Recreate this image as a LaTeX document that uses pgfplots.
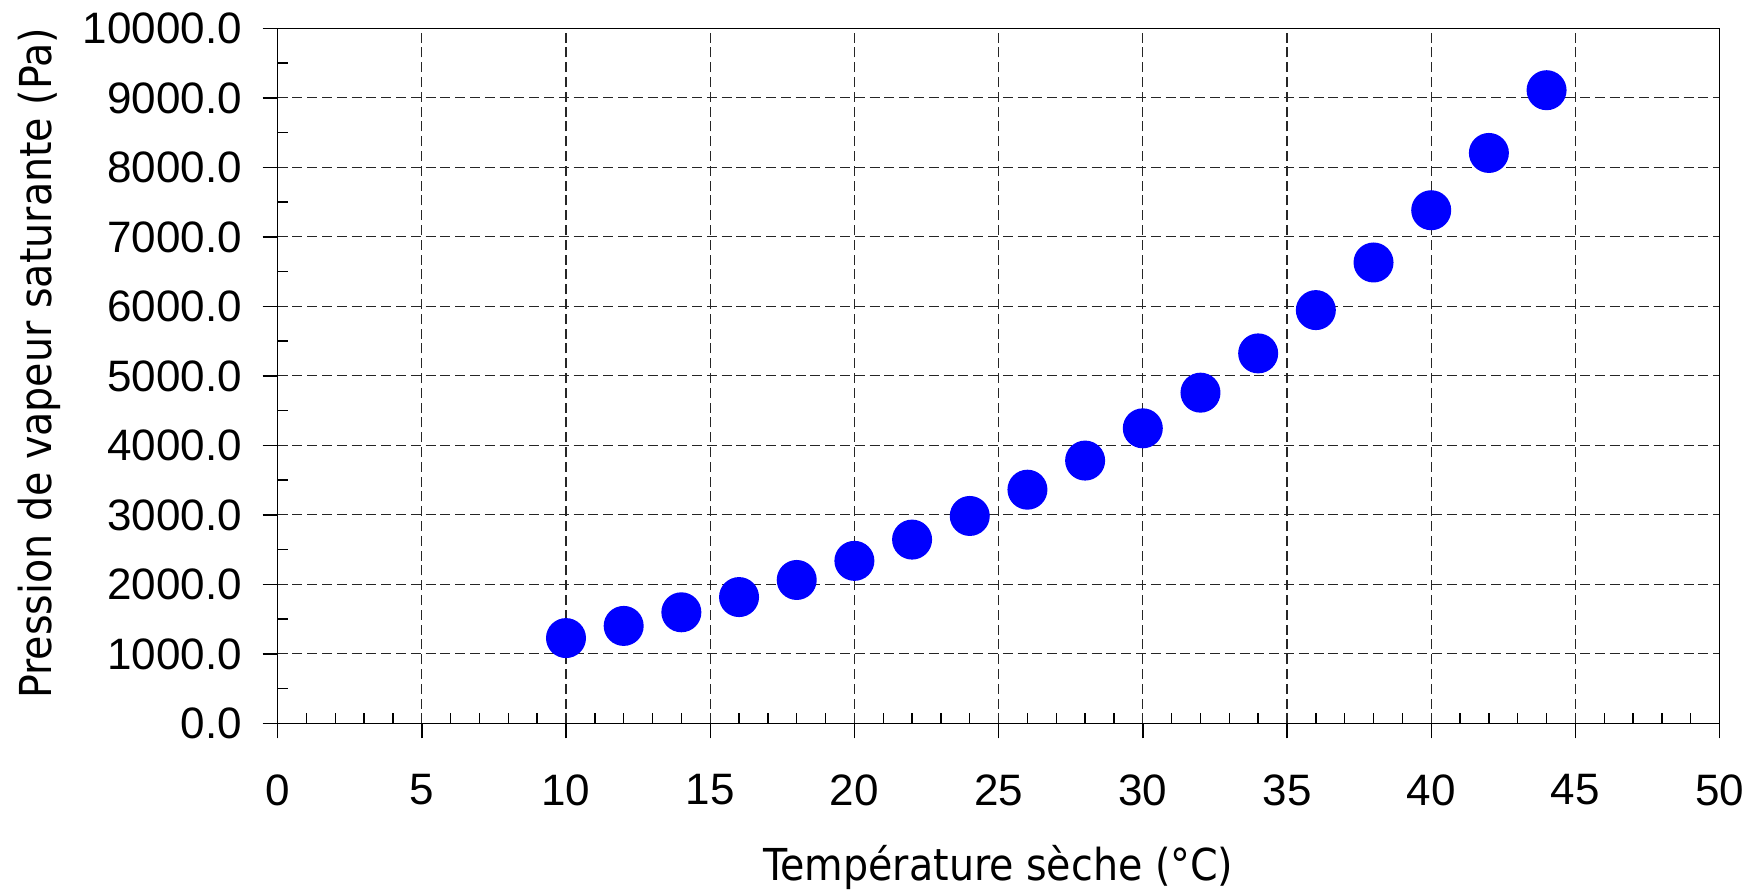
\documentclass[border=0pt]{standalone}
\usepackage{fontspec}
\setmainfont{DejaVu Sans Condensed}
\newfontfamily\tickfont{Liberation Sans}
\usepackage{pgfplots}
\pgfplotsset{compat=1.18}
\begin{document}
\fontsize{11pt}{13pt}\selectfont
\begin{tikzpicture}
\begin{axis}[
  scale only axis,
  width=360.5pt, height=173.75pt,
  xmin=0, xmax=50, ymin=0, ymax=10000,
  xtick={0,5,...,50},
  ytick={0,1000,...,10000},
  minor x tick num=4,
  minor y tick num=1,
  tick pos=left,
  tick align=outside,
  major tick length=3.75pt,
  minor tick length=2.6pt,
  minor x tick style={yshift=2.6pt},
  minor y tick style={xshift=2.6pt},
  tick style={black, line width=0.35pt},
  grid=major,
  major grid style={black!85, line width=0.28pt, dash pattern=on 2.5pt off 1.2pt},
  axis line style={black, line width=0.4pt},
  scaled y ticks=false,
  /pgf/number format/assume math mode=true,
  yticklabel={\pgfmathprintnumber[fixed, fixed zerofill, precision=1, set thousands separator={}]{\tick}},
  xticklabel={\pgfmathprintnumber[fixed, precision=0]{\tick}},
  ticklabel style={font=\tickfont\fontsize{11pt}{13pt}\selectfont},
  yticklabel style={anchor=east, inner sep=0pt, xshift=-5.0pt},
  xticklabel style={anchor=north, inner sep=0pt, yshift=-8.8pt},
  xlabel={Température sèche (°C)},
  ylabel={Pression de vapeur saturante (Pa)},
  xlabel style={at={(axis description cs:0.5,-0.2068)}, anchor=center, inner sep=0pt},
  ylabel style={at={(axis description cs:-0.1655,0.518)}, anchor=center, inner sep=0pt},
]
\addplot[only marks, mark=*, mark size=4.8pt, color=blue, fill=blue] coordinates {
(10,1228) (12,1403) (14,1599) (16,1818) (18,2064) (20,2339) (22,2645) (24,2985) (26,3363)
(28,3782) (30,4246) (32,4759) (34,5324) (36,5947) (38,6632) (40,7384) (42,8208) (44,9111)
};
\end{axis}
\pgfresetboundingbox
\path (current axis.south west) ++(-69.4pt,-42.4pt) rectangle ++(440.5pt,223.25pt);
\end{tikzpicture}
\end{document}
